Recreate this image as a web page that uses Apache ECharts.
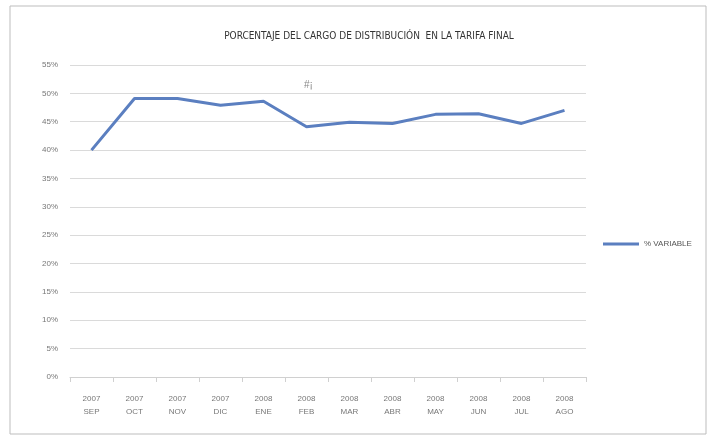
<!DOCTYPE html>
<html>
<head>
<meta charset="utf-8">
<script src="https://cdn.jsdelivr.net/npm/echarts@6/dist/echarts.min.js"></script>
<style>
    html, body {margin: 0; padding: 0; background: #fff;}
    #container {width: 711px; height: 438px;}
</style>
</head>
<body>
<div id="container"></div>
<script>
var titleText = 'PORCENTAJE DEL CARGO DE DISTRIBUCIÓN  EN LA TARIFA FINAL';
var seriesName = '% VARIABLE';
var years = ['2007', '2007', '2007', '2007', '2008', '2008', '2008', '2008', '2008', '2008', '2008', '2008'];
var months = ['SEP', 'OCT', 'NOV', 'DIC', 'ENE', 'FEB', 'MAR', 'ABR', 'MAY', 'JUN', 'JUL', 'AGO'];
var variable = [40.0, 49.1, 49.1, 47.9, 48.6, 44.1, 44.9, 44.7, 46.3, 46.4, 44.7, 47.0];

initChart(echarts);

function initChart(echarts) {
    var xAxis = new Array();
    for (var i = 0; i < months.length; i++) {
        xAxis.push(years[i] + '\n' + months[i]);
    }

    var myChart = echarts.init(document.getElementById('container'));
    var option = {
        backgroundColor: '#fff',
        animation: false,
        title: {
            text: titleText,
            left: 364,
            textAlign: 'center',
            top: 26,
            textStyle: {fontSize: 10, fontWeight: 'normal', color: '#333', fontFamily: 'DejaVu Sans Condensed, sans-serif'}
        },
        legend: {
            data: [seriesName],
            orient: 'vertical',
            left: 598,
            top: 235,
            itemWidth: 36,
            itemHeight: 3,
            itemGap: 4,
            icon: 'rect',
            textStyle: {fontSize: 8, color: '#555'}
        },
        grid: {left: 70, right: 125, top: 65, bottom: 61},
        xAxis: [{
            type: 'category',
            boundaryGap: true,
            data: xAxis,
            axisLine: {lineStyle: {color: '#d0d0d0'}},
            axisTick: {show: true, lineStyle: {color: '#d0d0d0'}},
            axisLabel: {fontSize: 8, color: '#777', lineHeight: 13, margin: 15}
        }],
        yAxis: [{
            type: 'value',
            min: 0,
            max: 55,
            interval: 5,
            axisLine: {show: false},
            axisTick: {show: false},
            splitLine: {lineStyle: {color: '#dadada'}},
            axisLabel: {formatter: '{value}%', fontSize: 8, color: '#777', margin: 12}
        }],
        graphic: [
            {type: 'rect', shape: {x: 10, y: 6, width: 696, height: 428}, style: {fill: 'none', stroke: '#bdbdbd', lineWidth: 1}},
            {type: 'text', left: 304, top: 80, style: {text: '#¡', fontSize: 10, fill: '#888'}}
        ],
        series: [{
            name: seriesName,
            type: 'line',
            data: variable,
            symbol: 'none',
            lineStyle: {width: 3, color: '#5b7fc0'},
            itemStyle: {color: '#5b7fc0'}
        }]
    };
    myChart.setOption(option);
}
</script>
</body>
</html>
